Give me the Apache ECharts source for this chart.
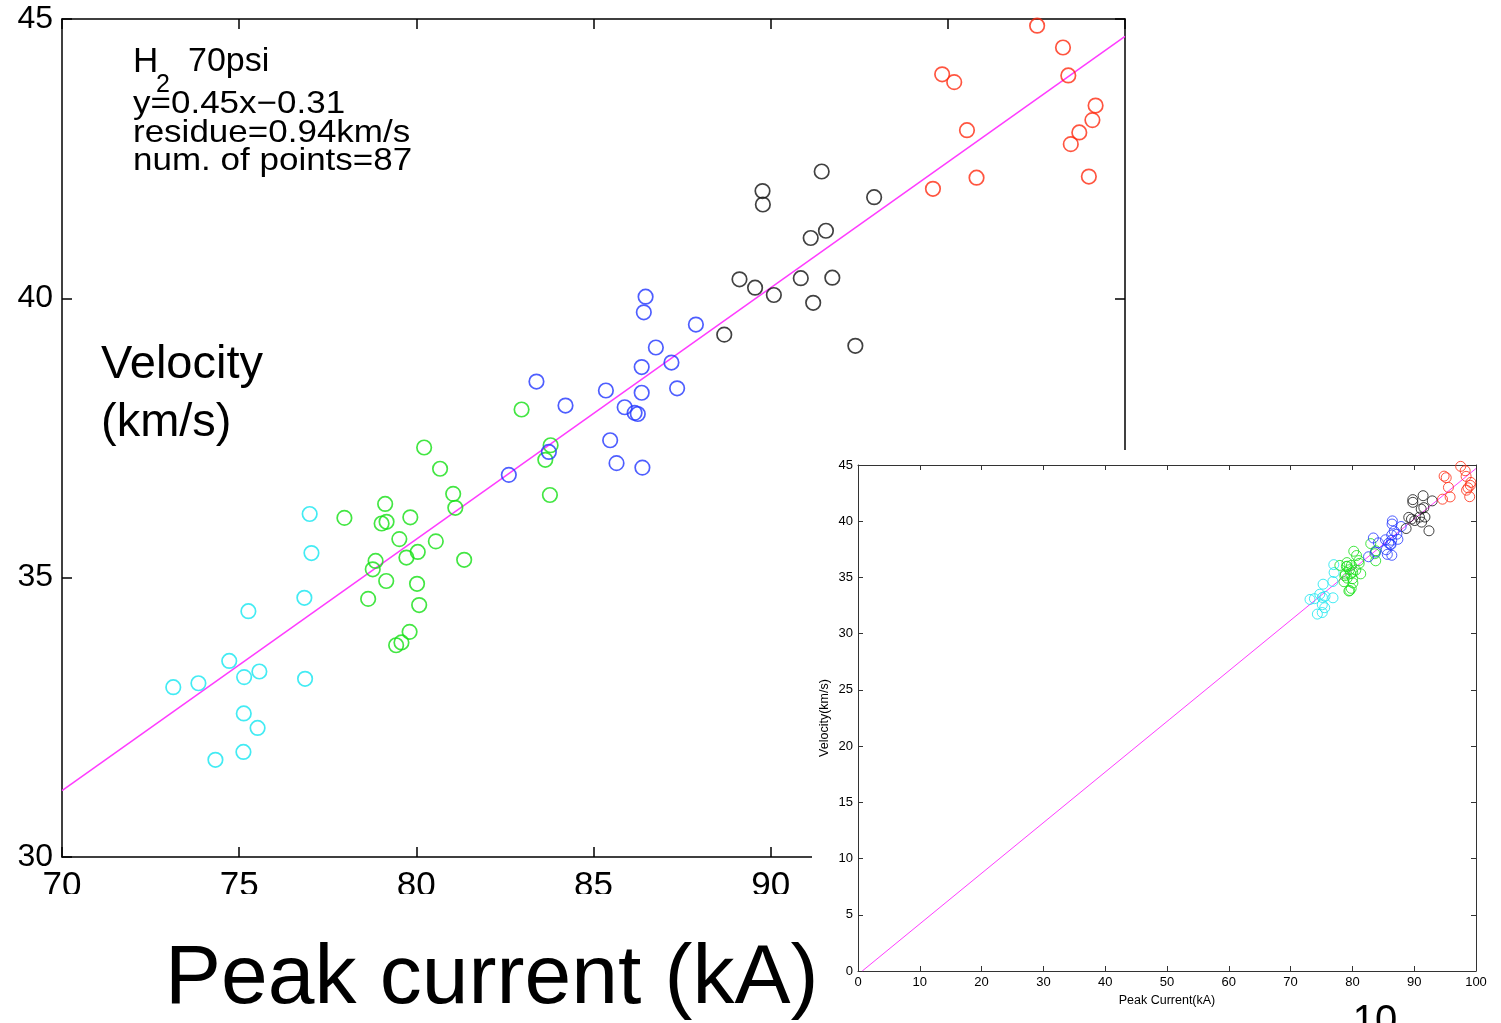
<!DOCTYPE html>
<html>
<head>
<meta charset="utf-8">
<script src="https://cdn.jsdelivr.net/npm/echarts@6/dist/echarts.min.js"></script>
<style>
html,body{margin:0;padding:0;background:#fff;}
#main,#over{position:absolute;left:0;top:0;width:1501px;height:1023px;}
#over{pointer-events:none;}
</style>
</head>
<body>
<div id="main"></div>
<div id="over"></div>
<script>
// ---- data (Peak current kA, Velocity km/s) ----
const cyanPts = [[73.14,33.04],[73.85,33.11],[74.72,33.51],[75.14,33.22],[75.57,33.32],[75.13,32.57],[75.52,32.31],[75.12,31.88],[74.33,31.74],[75.26,34.40],[76.84,34.64],[77.04,35.44],[76.99,36.14],[76.86,33.19]];
const greenPts = [[77.97,36.07],[79.12,36.32],[79.02,35.97],[79.16,36.00],[79.83,36.08],[81.04,36.50],[81.10,36.25],[79.52,35.69],[80.55,35.65],[80.04,35.46],[79.72,35.36],[81.35,35.32],[78.85,35.30],[78.77,35.15],[79.15,34.94],[80.02,34.89],[78.64,34.62],[80.08,34.51],[79.81,34.03],[79.58,33.84],[79.43,33.79],[80.22,37.33],[80.67,36.95],[82.97,38.01],[83.79,37.37],[83.64,37.11],[83.77,36.48]];
const bluePts = [[82.61,36.84],[83.39,38.51],[84.21,38.08],[83.74,37.25],[85.35,38.35],[85.88,38.05],[86.16,37.95],[86.25,37.93],[86.36,38.31],[86.36,38.77],[86.76,39.12],[87.20,38.85],[87.36,38.39],[87.89,39.53],[86.42,39.75],[86.47,40.03],[85.47,37.46],[85.65,37.05],[86.38,36.97]];
const blackPts = [[88.69,39.35],[89.12,40.34],[89.56,40.19],[90.09,40.06],[89.77,41.92],[89.78,41.68],[90.85,40.36],[91.20,39.92],[91.13,41.08],[91.56,41.21],[91.74,40.37],[91.44,42.27],[92.92,41.81],[92.39,39.15]];
const redPts = [[97.52,44.88],[98.25,44.49],[98.40,43.99],[94.84,44.01],[95.18,43.87],[95.54,43.01],[95.81,42.16],[94.58,41.96],[99.17,43.45],[99.08,43.19],[98.71,42.97],[98.47,42.76],[98.98,42.18]];
// fit line y = 0.45x - 0.31 (endpoints)
const fitMain = [[70,31.19],[100,44.69]];
const fitInset = [[0.69,0],[100,44.69]];
const infoLines = ['y=0.45x\u22120.31','residue=0.94km/s','num. of points=87'];

const groups = [
  {pts: cyanPts, color: '#14e6f0'},
  {pts: greenPts, color: '#14e014'},
  {pts: bluePts, color: '#2236ff'},
  {pts: blackPts, color: '#111111'},
  {pts: redPts, color: '#ff2a10'}
];
const FF = '"Liberation Sans", Arial, Helvetica, sans-serif';
const MAG = '#ff3cff';

function boxAxes(opt){
  const line = {show:true, onZero:false, lineStyle:{color:opt.c, width:opt.w}};
  const tick = {show:true, inside:true, length:opt.tl, lineStyle:{color:opt.c, width:opt.w}};
  return {
    x:[
      {type:'value', gridIndex:0, min:opt.xmin, max:opt.xmax, interval:opt.xi, position:'bottom',
       axisLine:line, axisTick:tick, splitLine:{show:false},
       axisLabel:{show:true, color:'#000', fontSize:opt.xfs, fontFamily:FF, margin:opt.xm},
       name:opt.xname||'', nameLocation:'middle', nameGap:opt.xng||0,
       nameTextStyle:{color:'#000', fontSize:opt.nfs||12, fontFamily:FF}},
      {type:'value', gridIndex:0, min:opt.xmin, max:opt.xmax, interval:opt.xi, position:'top',
       axisLine:line, axisTick:tick, splitLine:{show:false}, axisLabel:{show:false}}
    ],
    y:[
      {type:'value', gridIndex:0, min:opt.ymin, max:opt.ymax, interval:opt.yi, position:'left',
       axisLine:line, axisTick:tick, splitLine:{show:false},
       axisLabel:{show:true, color:'#000', fontSize:opt.yfs, fontFamily:FF, margin:opt.ym},
       name:opt.yname||'', nameLocation:'middle', nameGap:opt.yng||0,
       nameTextStyle:{color:'#000', fontSize:opt.nfs||12, fontFamily:FF}},
      {type:'value', gridIndex:0, min:opt.ymin, max:opt.ymax, interval:opt.yi, position:'right',
       axisLine:line, axisTick:tick, splitLine:{show:false}, axisLabel:{show:false}}
    ]
  };
}

function txt(x, y, text, size, extra){
  return Object.assign({type:'text', x:x, y:y,
    style:{text:text, font:size+'px '+FF, fill:'#000', verticalAlign:'middle', textVerticalAlign:'middle'}}, extra||{});
}

// ---------------- main chart ----------------
const mainAx = boxAxes({c:'#000', w:1.5, tl:10, xmin:70, xmax:100, xi:5, ymin:30, ymax:45, yi:5, xfs:35, xm:12, yfs:32, ym:9});
const mainSeries = groups.map(g => ({
  type:'scatter', data:g.pts, symbol:'circle', symbolSize:14.5, z:3,
  itemStyle:{color:'rgba(0,0,0,0)', borderColor:g.color, borderWidth:1.7},
  emphasis:{disabled:true}
}));
mainSeries.unshift({type:'line', data:fitMain, showSymbol:false, symbol:'none', z:2,
  lineStyle:{color:MAG, width:1.5}, emphasis:{disabled:true}});

const mainGraphic = [
  txt(133, 62, 'H', 35),
  txt(156, 85, '2', 25),
  txt(188, 62, '70psi', 34),
  txt(133, 104.5, infoLines[0], 35, {scaleY:0.9}),
  txt(133, 133.5, infoLines[1], 35, {scaleY:0.9}),
  txt(133, 161, infoLines[2], 35, {scaleY:0.9}),
  txt(101, 365, 'Velocity', 47),
  txt(101, 423, '(km/s)', 47)
];

const main = echarts.init(document.getElementById('main'));
main.setOption({
  animation:false,
  backgroundColor:'#fff',
  grid:[{left:62, top:19, width:1063, height:838}],
  xAxis: mainAx.x,
  yAxis: mainAx.y,
  series: mainSeries,
  graphic: mainGraphic
});

// ---------------- overlay: inset chart + big title ----------------
const inAx = boxAxes({c:'#333', w:1, tl:5, xmin:0, xmax:100, xi:10, ymin:0, ymax:45, yi:5, xfs:13, xm:5, yfs:13, ym:5,
  xname:'Peak Current(kA)', xng:23, yname:'Velocity(km/s)', yng:27, nfs:12.5});
const inSeries = groups.map(g => ({
  type:'scatter', data:g.pts, symbol:'circle', symbolSize:10, z:3,
  itemStyle:{color:'rgba(0,0,0,0)', borderColor:g.color, borderWidth:1},
  emphasis:{disabled:true}
}));
inSeries.unshift({type:'line', data:fitInset, showSymbol:false, symbol:'none', z:2,
  lineStyle:{color:MAG, width:1}, emphasis:{disabled:true}});

const over = echarts.init(document.getElementById('over'));
over.setOption({
  animation:false,
  grid:[{left:858, top:465, width:618, height:506}],
  xAxis: inAx.x,
  yAxis: inAx.y,
  series: inSeries,
  graphic: [
    {type:'rect', z:-10, shape:{x:812, y:450, width:689, height:573}, style:{fill:'#fff'}},
    {type:'rect', z:-10, shape:{x:0, y:894, width:812, height:42}, style:{fill:'#fff'}},
    txt(165, 980, 'Peak current (kA)', 84, {z:100}),
    {type:'text', z:100, x:1375, y:1022, style:{text:'10', font:'40px '+FF, fill:'#000', align:'center', textAlign:'center', verticalAlign:'middle', textVerticalAlign:'middle'}}
  ]
});
</script>
</body>
</html>
